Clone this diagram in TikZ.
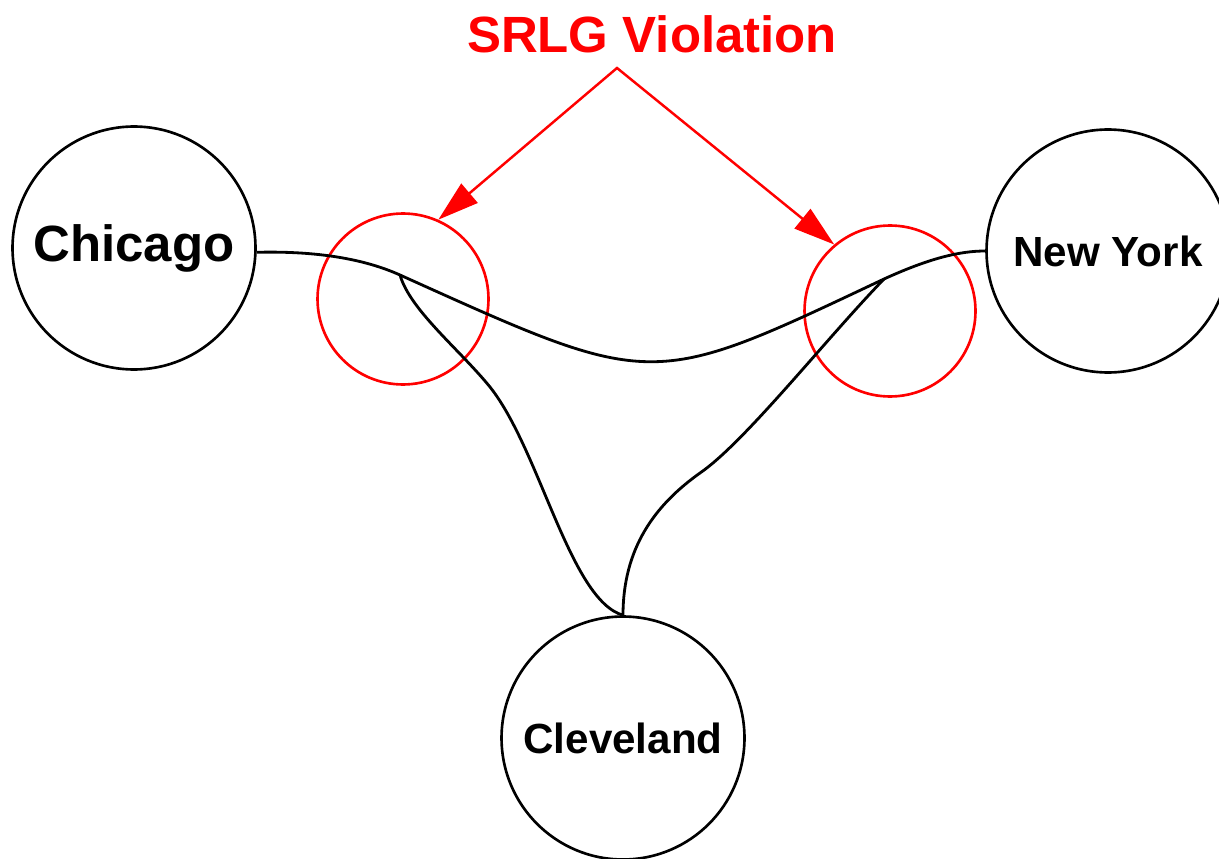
\documentclass[tikz,border=0pt]{standalone}
\usepackage{fontspec}
\setmainfont{Liberation Sans}
\usetikzlibrary{arrows.meta}

\tikzset{
	city/.style={circle,draw,line width=1.5pt,inner sep=0pt,minimum size=4.86cm,font=\bfseries\fontsize{24}{28}\selectfont},
	ring/.style={circle,draw=red,line width=1.5pt,inner sep=0pt,minimum size=3.42cm},
	fibre/.style={line width=1.6pt},
	violation/.style={draw=red,line width=1.4pt,{Triangle[length=.82cm,width=.5cm,fill=red]}-{Triangle[length=.82cm,width=.5cm,fill=red]}}
}

\begin{document}
\begin{tikzpicture}[x=.02cm,y=-.02cm]
			\useasboundingbox (0,0) rectangle (1219,858);
			\clip (0,0) rectangle (1219,858);
			\node[city,font=\bfseries\fontsize{29}{34}\selectfont] (chicago) at (134,248) {Chicago};
			\node[city] (newyork) at (1108,251) {New York};
			\node[city] (cleveland) at (623,738) {Cleveland};
			\foreach \n/\x/\y in {ringA/403/299,ringB/890/311} \node[ring] (\n) at (\x,\y) {};
			\coordinate (splitA) at (400,275);
			\coordinate (splitB) at (884,279);
			\coordinate (apex) at (617,68);
			\node[red,anchor=base,font=\bfseries\fontsize{29}{34}\selectfont] (srlg) at (652,53) {SRLG Violation};
			\draw[fibre] (chicago.-2) .. controls (310,251) and (360,257) .. (splitA)
				.. controls (655,390) and (649,390) .. (splitB)
				.. controls (930,258) and (960,251) .. (newyork.west);
			\draw[fibre] (splitA) .. controls (410,310) and (460,350) .. (490,387)
				.. controls (540,450) and (570,600) .. (cleveland.north);
			\draw[fibre] (cleveland.north) .. controls (623,548) and (655,505) .. (700,473)
				.. controls (745,442) and (825,340) .. (splitB);
			\draw[violation] (ringA.66) -- (apex) -- (ringB.130);
		\end{tikzpicture}
\end{document}
